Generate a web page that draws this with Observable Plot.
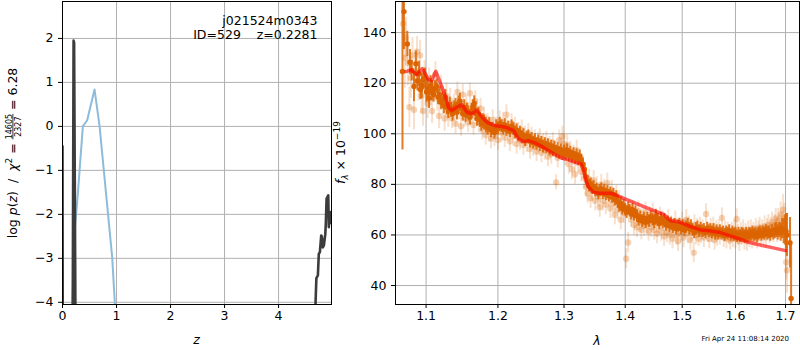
<!DOCTYPE html>
<html><head><meta charset="utf-8">
<script src="https://cdn.jsdelivr.net/npm/d3@7"></script>
<script src="https://cdn.jsdelivr.net/npm/@observablehq/plot@0.6"></script>
<style>
body{margin:0;background:#fff;}
#wrap{position:relative;width:800px;height:350px;overflow:hidden;font-family:"DejaVu Sans";background:#fff;}
#left{position:absolute;left:0;top:0;}
#right{position:absolute;left:332px;top:0;}
#stamp{position:absolute;right:11px;top:334px;font-size:7px;line-height:10px;color:#000;font-family:"DejaVu Sans";}
svg text{white-space:pre;}
</style></head>
<body><div id="wrap"><div id="left"></div><div id="right"></div><div id="stamp">Fri Apr 24 11:08:14 2020</div></div>
<script>
// ---- left panel: log p(z)
const pzZ   = [0, 0.012, 0.17, 0.205, 0.215, 0.27, 4.675, 4.685, 4.70, 4.728, 4.745, 4.765, 4.79, 4.80, 4.82, 4.84, 4.865, 4.875, 4.889, 4.92, 4.93, 4.945, 4.963, 4.98];
const pzLog = [-0.45, -12, -12, 1.95, 1.9, -12, -12, -4.0, -3.45, -3.39, -2.9, -2.86, -2.48, -2.5, -2.75, -2.7, -2.45, -2.2, -1.64, -1.57, -2.29, -2.0, -1.95, -2.2];
const chiZ  = [0.17, 0.185, 0.222, 0.284, 0.377, 0.457, 0.593, 0.685, 0.92, 0.968, 0.985];
const chiLog= [-5, -4, -2.43, -1.53, 0, 0.14, 0.84, 0.02, -2.98, -4, -5];
const zTicks = [0, 1, 2, 3, 4];
const lpTicks = [-4, -3, -2, -1, 0, 1, 2];
const objName = "j021524m0343";
const objInfo = "ID=529    z=0.2281";

// ---- right panel: spectrum
const darkWave = [1.0690,1.0709,1.0753,1.0788,1.0810,1.0840,1.0865,1.0885,1.0907,1.0925,1.0943,1.0965,1.0987,1.1005,1.1020,1.1040,1.1060,1.1080,1.1100,1.1120,1.1143,1.1160,1.1180,1.1200,1.1220,1.1240,1.1260,1.1280,1.1300,1.1320,1.1340,1.1360,1.1380,1.1400,1.1420,1.1440,1.1460,1.1480,1.1500,1.1520,1.1540,1.1560,1.1580,1.1600,1.1620,1.1640,1.1660,1.1680,1.1700,1.1720,1.1740,1.1760,1.1780,1.1800,1.1825,1.1850,1.1875,1.1900,1.1925,1.1950,1.1975,1.2000,1.2025,1.2050,1.2075,1.2100,1.2125,1.2150,1.2175,1.2200,1.2225,1.2250,1.2275,1.2300,1.2325,1.2350,1.2375,1.2400,1.2425,1.2450,1.2475,1.2500,1.2525,1.2550,1.2575,1.2600,1.2625,1.2650,1.2675,1.2700,1.2725,1.2750,1.2775,1.2800,1.2825,1.2850,1.2875,1.2900,1.2925,1.2950,1.2975,1.3000,1.3025,1.3050,1.3075,1.3100,1.3125,1.3150,1.3175,1.3200,1.3225,1.3250,1.3275,1.3300,1.3325,1.3350,1.3375,1.3400,1.3425,1.3450,1.3475,1.3500,1.3525,1.3550,1.3575,1.3600,1.3625,1.3650,1.3675,1.3700,1.3725,1.3750,1.3775,1.3800,1.3825,1.3850,1.3875,1.3900,1.3925,1.3950,1.3975,1.4000,1.4025,1.4050,1.4075,1.4100,1.4125,1.4150,1.4175,1.4200,1.4230,1.4260,1.4290,1.4320,1.4350,1.4380,1.4410,1.4440,1.4470,1.4500,1.4530,1.4560,1.4590,1.4620,1.4650,1.4680,1.4710,1.4740,1.4770,1.4800,1.4830,1.4860,1.4890,1.4920,1.4950,1.4980,1.5010,1.5040,1.5070,1.5100,1.5130,1.5160,1.5190,1.5220,1.5250,1.5280,1.5310,1.5340,1.5370,1.5400,1.5430,1.5460,1.5490,1.5520,1.5550,1.5580,1.5610,1.5640,1.5670,1.5700,1.5730,1.5760,1.5790,1.5820,1.5850,1.5880,1.5910,1.5940,1.5970,1.6000,1.6030,1.6060,1.6090,1.6120,1.6150,1.6180,1.6210,1.6240,1.6270,1.6300,1.6330,1.6360,1.6390,1.6420,1.6450,1.6480,1.6510,1.6540,1.6570,1.6600,1.6630,1.6660,1.6690,1.6720,1.6750,1.6780,1.6810,1.6840,1.6870,1.6900,1.6930,1.6960,1.6990,1.7010,1.7030,1.7092,1.7115,1.7150];
const darkFlux = [124.6,148.3,135.5,128.3,125.0,118.7,127.7,121.0,123.7,117.5,119.0,121.5,122.0,116.5,117.7,114.0,119.0,117.0,115.5,118.0,118.7,114.5,115.5,112.5,113.5,111.0,114.5,110.5,109.0,111.5,109.5,108.0,110.0,111.0,108.5,112.0,113.0,110.0,108.0,110.5,107.5,109.0,108.0,106.5,109.0,110.5,112.0,108.0,106.0,107.5,105.5,104.0,105.0,104.5,103.5,102.5,103.5,101.5,102.0,100.5,103.0,102.0,104.0,103.0,102.0,103.5,101.5,102.5,101.0,103.0,102.0,100.5,101.5,99.5,100.5,98.5,99.5,97.5,98.5,99.0,97.0,98.0,96.5,97.5,96.0,97.0,95.5,96.5,95.0,96.0,94.5,95.5,94.0,95.0,93.5,94.5,93.0,94.0,92.5,93.5,92.0,93.0,92.0,93.5,91.5,92.5,91.0,92.0,90.5,91.5,90.0,91.0,89.5,88.0,86.0,83.0,81.0,79.5,80.0,78.5,79.0,77.5,78.0,76.5,77.5,78.0,76.5,77.5,76.0,77.0,75.5,76.5,75.0,76.0,74.0,75.0,73.0,71.5,72.5,70.5,71.5,70.0,69.0,70.5,69.5,68.5,70.0,68.0,69.0,67.5,66.0,67.0,65.5,66.5,65.0,66.5,65.5,67.0,66.0,65.0,67.5,66.0,64.5,66.5,65.0,66.0,64.0,65.0,63.5,64.5,63.0,64.0,62.5,63.5,64.0,62.5,63.5,62.0,63.0,64.0,62.5,63.5,62.0,61.0,62.5,63.0,61.5,62.5,61.5,62.0,61.0,62.5,61.5,62.0,61.0,62.0,60.5,61.5,60.5,61.5,60.5,61.0,60.0,61.0,60.5,61.5,60.0,61.0,60.0,60.5,59.5,60.5,59.5,60.5,60.0,59.5,60.5,59.5,60.5,60.0,61.0,60.0,60.5,59.5,60.5,61.0,60.0,61.0,60.5,61.5,60.5,61.0,60.0,61.5,60.5,61.5,62.0,61.0,62.0,61.0,62.5,61.5,62.0,61.5,60.0,56.9,34.9,30.0];
const darkErr  = [31,15,5,5,4,6,5,4,5,4,5,4,4,4,4,4,4,4,3,3,3,3,3,3,3,3,3,3,3,3,3,3,3,3,3,3,3,3,3,3,3,3,3,3,3,3,3,3,3,3,3,3,3,3,3,3,3,3,2.5,2.5,2.5,2.5,2.5,2.5,2.5,2.5,2.5,2.5,2.5,2.5,2.5,2.5,2.5,2.5,2.5,2.5,2.5,2.5,2.5,2.5,2.5,2.5,2.5,2.5,2.5,2.5,2.5,2.5,2.5,2.5,2.5,2.5,2.5,2.5,2.5,2.5,2.5,2.5,2.5,2.5,2.5,2.5,2.5,2.5,2.5,2.5,2.5,2.5,2.5,2.5,2.5,2.5,2.5,2.5,2.5,2.5,2.5,2.5,2.5,2.5,2.5,2.5,2.5,2.5,2.5,2.5,2.5,2.5,2.5,2.5,2.5,2.5,2.5,2.5,2.5,2.5,2.5,2.5,2.5,2.5,2.5,2.5,2.5,2.5,2.5,2.5,2.5,2.5,2.5,2.5,2.5,2.5,2.5,2.5,2.5,2.5,2.5,2.5,2.5,2.5,2.5,2.5,2.5,2.5,2.5,2.5,2.5,2.5,2.5,2.5,2.5,2.5,2.5,2.5,2.5,2.5,2.5,2.5,2.5,2.5,2.5,2.5,2.5,2.5,2.5,2.5,2.5,2.5,2.5,2.5,2.5,2.5,2.5,2.5,2.5,2.5,2.5,2.5,2.5,2.5,2.5,2.5,2.5,2.5,2.5,2.5,2.5,2.5,2.5,2.5,2.5,2.5,2.5,2.5,2.5,2.5,2.5,2.5,2.5,2.5,2.5,2.5,2.5,2.5,2.5,2.5,2.5,2.5,2.5,2.5,2.5,2.5,2.5,2.5,2.5,3,3,3,3,3.5,4,5,6,7,8.5,10,22];

const lightWave = [1.0700,1.0720,1.0735,1.0760,1.0780,1.0800,1.0820,1.0840,1.0860,1.0880,1.0900,1.0920,1.0940,1.0960,1.0980,1.1000,1.1020,1.1040,1.1060,1.1080,1.1100,1.1125,1.1150,1.1175,1.1200,1.1225,1.1250,1.1275,1.1300,1.1325,1.1350,1.1375,1.1400,1.1425,1.1450,1.1475,1.1500,1.1525,1.1550,1.1575,1.1600,1.1625,1.1650,1.1675,1.1700,1.1725,1.1750,1.1775,1.1800,1.1825,1.1850,1.1875,1.1900,1.1925,1.1950,1.1975,1.2000,1.2025,1.2050,1.2075,1.2100,1.2125,1.2150,1.2175,1.2200,1.2225,1.2250,1.2275,1.2300,1.2325,1.2350,1.2375,1.2400,1.2425,1.2450,1.2475,1.2500,1.2525,1.2550,1.2575,1.2600,1.2625,1.2650,1.2675,1.2700,1.2725,1.2750,1.2775,1.2800,1.2825,1.2876,1.2900,1.2925,1.2950,1.2975,1.3000,1.3025,1.3050,1.3075,1.3100,1.3125,1.3150,1.3175,1.3200,1.3225,1.3250,1.3275,1.3300,1.3325,1.3350,1.3375,1.3400,1.3425,1.3450,1.3475,1.3500,1.3525,1.3550,1.3575,1.3600,1.3625,1.3650,1.3675,1.3700,1.3725,1.3750,1.3775,1.3800,1.3825,1.3850,1.3875,1.3900,1.3925,1.3950,1.3975,1.4017,1.4050,1.4075,1.4100,1.4125,1.4150,1.4175,1.4200,1.4225,1.4250,1.4275,1.4300,1.4325,1.4350,1.4375,1.4400,1.4425,1.4450,1.4475,1.4500,1.4525,1.4550,1.4575,1.4600,1.4625,1.4650,1.4675,1.4700,1.4725,1.4750,1.4775,1.4800,1.4825,1.4850,1.4875,1.4900,1.4925,1.4950,1.4975,1.5000,1.5025,1.5050,1.5075,1.5100,1.5125,1.5150,1.5175,1.5211,1.5225,1.5250,1.5275,1.5300,1.5325,1.5350,1.5375,1.5400,1.5440,1.5475,1.5500,1.5525,1.5550,1.5575,1.5600,1.5625,1.5650,1.5675,1.5700,1.5740,1.5775,1.5800,1.5825,1.5850,1.5875,1.5900,1.5925,1.5950,1.5975,1.6000,1.6025,1.6050,1.6075,1.6100,1.6125,1.6150,1.6175,1.6200,1.6225,1.6250,1.6275,1.6300,1.6325,1.6350,1.6375,1.6400,1.6425,1.6450,1.6475,1.6500,1.6525,1.6550,1.6575,1.6600,1.6625,1.6650,1.6675,1.6700,1.6725,1.6750,1.6775,1.6800,1.6825,1.6850,1.6875,1.6900,1.6925,1.6950,1.6975,1.7000,1.7015,1.7030];
const lightFlux = [143.5,130.0,138.0,128.0,110.5,122.0,131.0,109.5,125.0,132.5,120.0,131.0,115.0,109.0,123.0,118.0,112.0,121.0,116.0,109.0,119.0,123.5,114.0,107.0,118.0,112.0,106.0,115.0,107.5,113.0,106.0,111.5,104.0,116.5,109.5,103.0,115.5,106.5,111.5,104.5,116.0,107.5,103.5,113.0,109.0,104.5,110.0,101.5,106.5,99.5,104.0,101.0,98.0,105.5,99.0,102.5,97.5,105.0,100.5,104.5,98.5,107.5,101.0,97.0,104.0,99.0,102.5,96.0,100.5,97.5,101.5,95.5,99.0,96.5,100.0,94.0,98.5,95.0,97.5,93.0,96.5,98.0,92.5,96.0,93.5,97.0,91.0,95.0,92.0,96.5,80.8,90.5,97.5,94.0,99.0,96.0,91.5,95.5,88.0,93.0,86.0,91.5,84.0,93.5,88.5,90.0,85.0,87.5,82.5,79.0,76.5,82.0,74.5,77.5,81.5,73.5,79.0,75.0,71.0,80.0,73.5,78.0,72.0,80.5,75.0,70.5,77.5,72.5,68.0,75.5,70.0,73.5,66.0,71.5,68.5,50.6,57.0,71.0,66.0,69.5,64.0,68.0,63.0,69.5,65.0,62.0,67.0,63.5,69.0,64.5,61.5,67.0,63.0,68.5,62.0,66.5,60.5,64.5,67.0,61.5,65.5,59.5,64.0,61.0,66.0,60.0,63.5,58.5,62.5,65.5,60.0,57.5,63.0,61.0,65.0,59.0,62.5,66.0,60.5,63.5,58.0,61.5,53.0,64.0,60.0,62.5,58.5,63.0,60.5,62.0,59.0,68.3,61.0,58.5,62.5,60.0,63.0,58.0,61.5,59.5,62.0,60.0,66.7,59.0,61.5,58.5,62.0,60.0,58.0,61.0,59.0,62.0,58.5,66.3,60.0,57.5,61.0,59.0,62.0,58.0,60.5,57.5,61.5,59.0,62.0,58.5,61.0,59.5,62.5,58.5,61.5,63.0,59.5,62.0,60.0,63.5,59.0,62.5,64.0,60.5,63.0,65.0,61.0,64.0,66.5,62.0,65.5,63.0,68.0,64.0,70.0,66.5,60.0,49.2,46.0];
const lightErr = [10,12,8,9,8,8,7,8,7,6,7,6,7,6,6,6,6,5,5,5,5,5,5,5,5,5,5,5,5,5,4,4,4,4,4,4,4,4,4,4,4,4,4,4,4,4,4,4,4,4,4,4,4,4,4,4,4,4,4,4,4,4,4,4,4,4,4,4,4,4,4,4,4,4,4,4,4,4,4,4,4,4,4,4,4,4,4,4,4,4,3,4,4,4,4,4,4,4,4,4,4,4,4,4,4,4,4,4,4,4,4,4,4,4,4,4,4,4,4,4,4,4,4,4,4,4,4,4,4,4,4,4,4,4,4,4,4,3,3,4,4,4,4,4,4,4,4,4,4,4,4,4,4,4,4,4,4,4,4,4,4,4,4,4,4,4,4,4,4,4,4,4,4,4,4,4,4,4,4,4,4,4,4,4,4,4,3,4,4,4,4,4,4,4,4,3,4,4,4,4,4,4,4,4,4,4,3,4,4,4,4,4,4,4,4,4,4,3,4,4,4,4,4,4,4,4,4,4,4,4,4,4,4,4,4,4,4,4,4,4,4,4,4,4,4,5,5,5,5,5,6,6,7,7,9,9,9,10,12];

const modelWave = [1.0736,1.0802,1.0877,1.0951,1.1031,1.1076,1.1130,1.1188,1.1256,1.1302,1.1348,1.1417,1.1487,1.1557,1.1627,1.1697,1.1777,1.1863,1.1960,1.2033,1.2106,1.2228,1.2303,1.2377,1.2453,1.2552,1.2655,1.2757,1.2862,1.2967,1.3071,1.3178,1.3274,1.3311,1.3350,1.3392,1.3473,1.3584,1.3749,1.3862,1.3973,1.4144,1.4317,1.4492,1.4668,1.4788,1.4968,1.5151,1.5336,1.5491,1.5680,1.5871,1.6065,1.6261,1.6528,1.6797,1.7002];
const modelFlux = [124.6,125.3,123.4,125.8,121.4,121.0,124.7,120.4,115.0,110.5,109.2,110.5,111.5,108.5,107.9,109.4,106.3,104.2,103.2,103.0,102.6,101.3,98.0,96.9,97.3,96.4,95.0,93.4,91.7,90.3,89.7,88.7,88.1,85.5,81.5,78.9,76.9,76.5,76.5,75.6,74.5,72.9,71.2,69.6,68.1,65.7,65.0,63.3,62.0,61.7,61.1,59.8,58.5,57.1,55.8,54.7,53.8];
const waveTicks = [1.1, 1.2, 1.3, 1.4, 1.5, 1.6, 1.7];
const fluxTicks = [40, 60, 80, 100, 120, 140];

const FONT = "DejaVu Sans";
const fmt = d => String(d).replace("-", "\u2212");
const GRID = {stroke: "#b0b0b0", strokeOpacity: 1, strokeWidth: 1};

// ---------- LEFT ----------
const pzData = pzZ.map((z, i) => ({z, v: pzLog[i]}));
const chiData = chiZ.map((z, i) => ({z, v: chiLog[i]}));
const left = Plot.plot({
  width: 332, height: 350,
  marginLeft: 62, marginRight: 1, marginTop: 1, marginBottom: 46,
  style: {fontFamily: FONT, fontSize: "12.5px", color: "black", background: "white"},
  x: {domain: [0, 4.98]},
  y: {domain: [-4.05, 2.84]},
  marks: [
    Plot.gridX(zTicks, GRID),
    Plot.gridY(lpTicks, GRID),
    Plot.line(chiData, {x: "z", y: "v", stroke: "#8dbbdb", strokeWidth: 2, clip: true}),
    Plot.line(pzData, {x: "z", y: "v", stroke: "#3c3c3c", strokeWidth: 2.6, clip: true}),
    Plot.frame({stroke: "black", strokeWidth: 1}),
    Plot.axisX({ticks: zTicks, tickFormat: fmt, tickSize: 4, tickPadding: 3, label: null}),
    Plot.axisY({ticks: lpTicks, tickFormat: fmt, tickSize: 4, tickPadding: 5, label: null}),
    Plot.text([objName], {text: d => d, frameAnchor: "top-right", dx: -14, dy: 19, textAnchor: "end", lineAnchor: "middle", fontSize: 12.5}),
    Plot.text([objInfo], {text: d => d, frameAnchor: "top-right", dx: -14, dy: 33, textAnchor: "end", lineAnchor: "middle", fontSize: 12.5})
  ]
});
document.getElementById("left").appendChild(left);

// ---------- RIGHT ----------
const ORANGE = "#dc6400";
const dark = darkWave.map((w, i) => ({w, f: darkFlux[i], e: darkErr[i]}));
const light = lightWave.map((w, i) => ({w, f: lightFlux[i], e: lightErr[i]}));
const model = modelWave.map((w, i) => ({w, f: modelFlux[i]}));
const right = Plot.plot({
  width: 468, height: 350,
  marginLeft: 63, marginRight: 1, marginTop: 1, marginBottom: 46,
  style: {fontFamily: FONT, fontSize: "12.5px", color: "black", background: "transparent"},
  x: {type: "log", domain: [1.06, 1.729]},
  y: {domain: [32.5, 152.3]},
  marks: [
    Plot.gridX(waveTicks, GRID),
    Plot.gridY(fluxTicks, GRID),
    Plot.ruleX(light, {x: "w", y1: d => d.f - d.e, y2: d => d.f + d.e, stroke: ORANGE, strokeOpacity: 0.2, strokeWidth: 2, clip: true}),
    Plot.dot(light, {x: "w", y: "f", r: 3.2, fill: ORANGE, fillOpacity: 0.28, clip: true}),
    Plot.ruleX(dark, {x: "w", y1: d => d.f - d.e, y2: d => d.f + d.e, stroke: ORANGE, strokeOpacity: 0.85, strokeWidth: 2, clip: true}),
    Plot.dot(dark, {x: "w", y: "f", r: 2.7, fill: ORANGE, clip: true}),
    Plot.line(model, {x: "w", y: "f", stroke: "red", strokeOpacity: 0.62, strokeWidth: 3.5, clip: true}),
    Plot.frame({stroke: "black", strokeWidth: 1}),
    Plot.axisX({ticks: waveTicks, tickFormat: d => d.toFixed(1), tickSize: 4, tickPadding: 3, label: null}),
    Plot.axisY({ticks: fluxTicks, tickFormat: fmt, tickSize: 4, tickPadding: 5, label: null})
  ]
});
document.getElementById("right").appendChild(right);

// ---------- axis labels ----------
const ls = d3.select(left);
ls.append("text").attr("x", 62 + (331 - 62) / 2).attr("y", 344).attr("text-anchor", "middle")
  .attr("font-family", FONT).attr("font-size", "12.5px").attr("font-style", "italic").text("z");

// left y label: one text chunk, fraction made with relative dx/dy shifts
const tl = ls.append("text").attr("transform", "translate(17,153) rotate(-90)")
  .attr("text-anchor", "middle").attr("font-family", FONT).attr("font-size", "12.5px").attr("fill", "black");
tl.append("tspan").text("log ");
tl.append("tspan").attr("font-style", "italic").text("p");
tl.append("tspan").text("(");
tl.append("tspan").attr("font-style", "italic").text("z");
tl.append("tspan").text(")  /  ");
tl.append("tspan").attr("font-style", "italic").text("\u03c7");
tl.append("tspan").attr("font-size", "9px").attr("dy", -5).text("2");
tl.append("tspan").attr("dy", 5).text(" = ");
tl.append("tspan").attr("font-size", "8px").attr("dy", -5.5).attr("text-decoration", "underline").text("14605");
tl.append("tspan").attr("font-size", "8px").attr("dx", -22.9).attr("dy", 9.5).text("2327");
tl.append("tspan").attr("dx", 2.5).attr("dy", -4).text(" = 6.28");

const rs = d3.select(right);
rs.append("text").attr("x", 63 + (467 - 63) / 2).attr("y", 345).attr("text-anchor", "middle")
  .attr("font-family", FONT).attr("font-size", "12.5px").attr("font-style", "italic").text("\u03bb");
const tr = rs.append("text").attr("transform", "translate(13,152.5) rotate(-90)").attr("text-anchor", "middle")
  .attr("font-family", FONT).attr("font-size", "12.5px").attr("fill", "black");
tr.append("tspan").attr("font-style", "italic").text("f");
tr.append("tspan").attr("font-style", "italic").attr("font-size", "8.5px").attr("dy", 3).text("\u03bb");
tr.append("tspan").attr("dy", -3).text(" \u00d7 10");
tr.append("tspan").attr("font-size", "9px").attr("dy", -5).text("\u221219");
</script></body></html>
